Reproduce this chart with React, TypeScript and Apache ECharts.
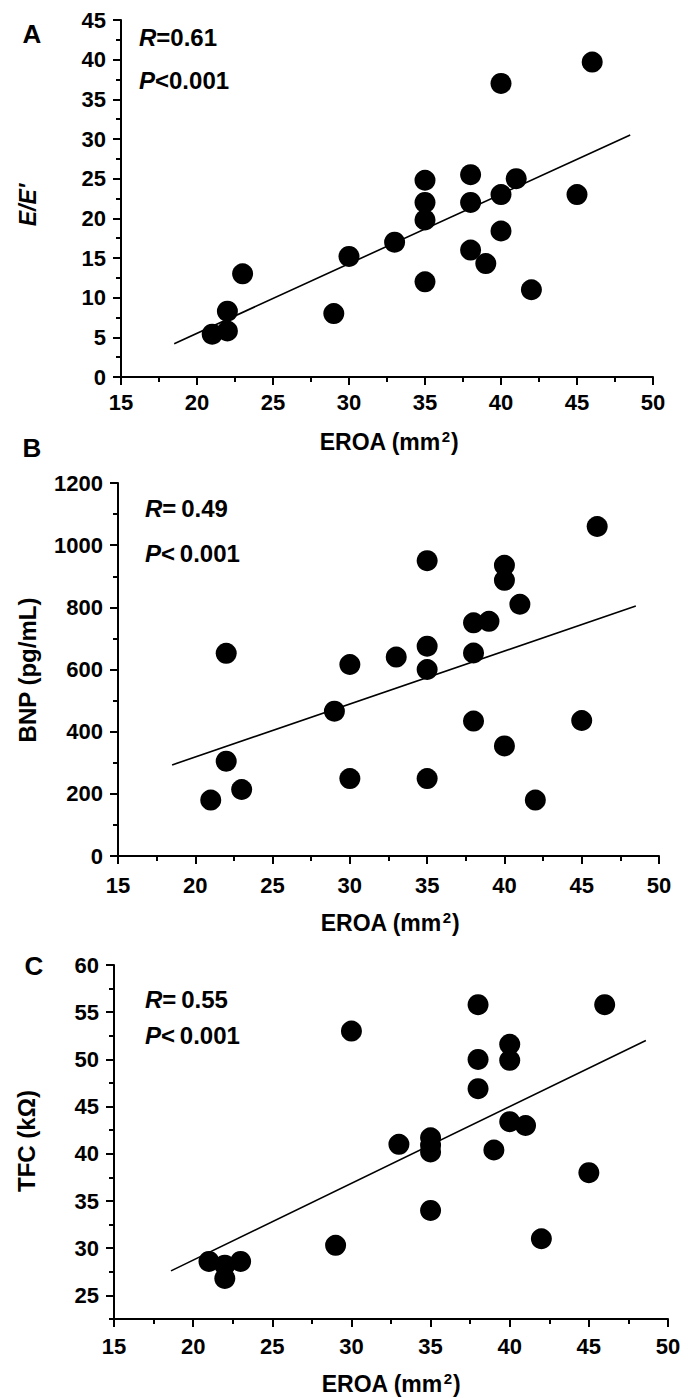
import React, { useEffect, useRef } from "react";
import * as echarts from "echarts";

// ---- Data ----
// Panel A: E/E' vs EROA
const aEroa = [46, 40, 35, 35, 35, 38, 38, 41, 40, 45, 40, 33, 38, 39, 30, 35, 42, 23, 29, 22, 22, 21];
const aEE = [39.7, 37, 24.8, 22, 19.8, 25.5, 22, 25, 23, 23, 18.4, 17, 16, 14.3, 15.2, 12, 11, 13, 8, 8.3, 5.8, 5.4];
const aFit = [[18.5, 4.2], [48.5, 30.5]];

// Panel B: BNP vs EROA
const bEroa = [46, 35, 40, 40, 41, 38, 39, 35, 35, 38, 33, 30, 22, 29, 38, 45, 40, 22, 23, 21, 30, 35, 42];
const bBNP = [1060, 950, 935, 887, 810, 750, 755, 675, 600, 653, 640, 616, 652, 466, 434, 436, 354, 305, 214, 180, 249, 249, 180];
const bFit = [[18.5, 293], [48.5, 804]];

// Panel C: TFC vs EROA
const cEroa = [38, 46, 30, 40, 40, 38, 38, 40, 41, 35, 35, 35, 33, 39, 45, 35, 29, 42, 21, 22, 23, 22];
const cTFC = [55.8, 55.8, 53, 51.6, 49.9, 50, 46.9, 43.4, 43, 41.7, 40.9, 40.2, 41, 40.4, 38, 34, 30.3, 31, 28.6, 26.8, 28.6, 28.2];
const cFit = [[18.6, 27.6], [48.6, 52]];
const cYTicks = [25, 30, 35, 40, 45, 50, 55, 60];

const FONT = "'Liberation Sans', Arial, Helvetica, sans-serif";
const BLACK = "#000";
const TICK_FONT = 22;

function zip(xs: number[], ys: number[]) {
  return xs.map((x, i) => [x, ys[i]]);
}

const plain = (v: number) => String(v);

function xAxisFor(gridIndex: number, margin: number) {
  return {
    type: "value",
    gridIndex,
    min: 15,
    max: 50,
    interval: 5,
    axisLine: { show: true, onZero: false, lineStyle: { color: BLACK, width: 2 } },
    axisTick: { show: true, length: 8, lineStyle: { color: BLACK, width: 2 } },
    minorTick: { show: true, splitNumber: 2, length: 5, lineStyle: { color: BLACK, width: 2 } },
    axisLabel: { margin, color: BLACK, fontSize: TICK_FONT, fontWeight: "bold", fontFamily: FONT, formatter: plain },
    splitLine: { show: false },
    minorSplitLine: { show: false },
  };
}

function yAxisFor(gridIndex: number, min: number, max: number, interval: number) {
  return {
    type: "value",
    gridIndex,
    position: "left",
    min,
    max,
    interval,
    axisLine: { show: true, onZero: false, lineStyle: { color: BLACK, width: 2 } },
    axisTick: { show: true, length: 8, lineStyle: { color: BLACK, width: 2 } },
    minorTick: { show: true, splitNumber: 2, length: 5, lineStyle: { color: BLACK, width: 2 } },
    axisLabel: { margin: 15, color: BLACK, fontSize: TICK_FONT, fontWeight: "bold", fontFamily: FONT, formatter: plain },
    splitLine: { show: false },
    minorSplitLine: { show: false },
  };
}

function scatter(xi: number, yi: number, data: number[][]) {
  return {
    type: "scatter",
    xAxisIndex: xi,
    yAxisIndex: yi,
    data,
    symbol: "circle",
    symbolSize: 21,
    itemStyle: { color: BLACK, opacity: 1 },
    z: 3,
  };
}

function fitLine(xi: number, yi: number, data: number[][]) {
  return {
    type: "line",
    xAxisIndex: xi,
    yAxisIndex: yi,
    data,
    symbol: "none",
    showSymbol: false,
    lineStyle: { color: BLACK, width: 1.6 },
    z: 2,
  };
}

function statText(x: number, y: number, letter: string, rest: string) {
  return {
    type: "text",
    x,
    y,
    style: {
      text: `{i|${letter}}{n|${rest}}`,
      align: "left",
      verticalAlign: "middle",
      rich: {
        i: { fontStyle: "italic", fontWeight: "bold", fontSize: 24, fontFamily: FONT, fill: BLACK },
        n: { fontWeight: "bold", fontSize: 24, fontFamily: FONT, fill: BLACK },
      },
    },
  };
}

function panelLetter(x: number, y: number, t: string) {
  return {
    type: "text",
    x,
    y,
    style: {
      text: t,
      align: "center",
      verticalAlign: "middle",
      fontSize: 26,
      fontWeight: "bold",
      fontFamily: FONT,
      fill: BLACK,
    },
  };
}

function xTitle(x: number, y: number) {
  return {
    type: "text",
    x,
    y,
    style: {
      text: "{t|EROA (mm}{s|2}{t|)}",
      align: "center",
      verticalAlign: "middle",
      rich: {
        t: { fontSize: 23, fontWeight: "bold", fontFamily: FONT, fill: BLACK, lineHeight: 26 },
        s: { fontSize: 15, fontWeight: "bold", fontFamily: FONT, fill: BLACK, lineHeight: 26, verticalAlign: "top", padding: [0, 1, 10, 1] },
      },
    },
  };
}

function yTitle(x: number, y: number, t: string, italic = false, size = 24) {
  return {
    type: "text",
    x,
    y,
    rotation: Math.PI / 2,
    style: {
      text: t,
      align: "center",
      verticalAlign: "middle",
      fontSize: size,
      fontWeight: "bold",
      fontStyle: italic ? "italic" : "normal",
      fontFamily: FONT,
      fill: BLACK,
    },
  };
}

export default function App() {
  const ref = useRef<HTMLDivElement>(null);

  useEffect(() => {
    document.body.style.margin = "0";
    document.body.style.overflow = "hidden";
    if (!ref.current) return;
    const chart = echarts.init(ref.current, null, { renderer: "svg" });

    const cMajorY = {
      type: "value",
      gridIndex: 2,
      position: "left",
      min: 22.5,
      max: 60,
      axisLine: { show: true, onZero: false, lineStyle: { color: BLACK, width: 2 } },
      axisTick: { show: true, length: 8, customValues: cYTicks, lineStyle: { color: BLACK, width: 2 } },
      axisLabel: {
        margin: 15,
        color: BLACK,
        fontSize: TICK_FONT,
        fontWeight: "bold",
        fontFamily: FONT,
        customValues: cYTicks,
        formatter: plain,
      },
      splitLine: { show: false },
    };
    const cMinorY = {
      type: "value",
      gridIndex: 2,
      position: "left",
      min: 22.5,
      max: 60,
      interval: 2.5,
      axisLine: { show: false },
      axisTick: { show: true, length: 5, lineStyle: { color: BLACK, width: 2 } },
      axisLabel: { show: false },
      splitLine: { show: false },
    };

    chart.setOption({
      animation: false,
      backgroundColor: "#fff",
      textStyle: { fontFamily: FONT },
      grid: [
        { left: 121, top: 20, width: 532, height: 357, containLabel: false },
        { left: 118, top: 483, width: 541, height: 373, containLabel: false },
        { left: 114, top: 965, width: 554, height: 354, containLabel: false },
      ],
      xAxis: [xAxisFor(0, 14), xAxisFor(1, 18), xAxisFor(2, 16)],
      yAxis: [yAxisFor(0, 0, 45, 5), yAxisFor(1, 0, 1200, 200), cMajorY, cMinorY],
      series: [
        fitLine(0, 0, aFit),
        scatter(0, 0, zip(aEroa, aEE)),
        fitLine(1, 1, bFit),
        scatter(1, 1, zip(bEroa, bBNP)),
        fitLine(2, 2, cFit),
        scatter(2, 2, zip(cEroa, cTFC)),
      ],
      graphic: [
        panelLetter(32, 34, "A"),
        panelLetter(32, 448, "B"),
        panelLetter(34, 966, "C"),
        statText(139, 37, "R", "=0.61"),
        statText(139, 80, "P", "<0.001"),
        statText(145, 508, "R", "=\u20090.49"),
        statText(145, 553, "P", "<\u20090.001"),
        statText(145, 999, "R", "=\u20090.55"),
        statText(145, 1035, "P", "<\u20090.001"),
        xTitle(389, 442),
        xTitle(390, 923),
        xTitle(391, 1384),
        yTitle(28, 205, "E/E′", true, 23),
        yTitle(27, 670, "BNP (pg/mL)"),
        yTitle(26, 1141, "TFC (kΩ)"),
      ],
    });

    return () => {
      chart.dispose();
    };
  }, []);

  return <div ref={ref} style={{ width: 688, height: 1398 }} />;
}
